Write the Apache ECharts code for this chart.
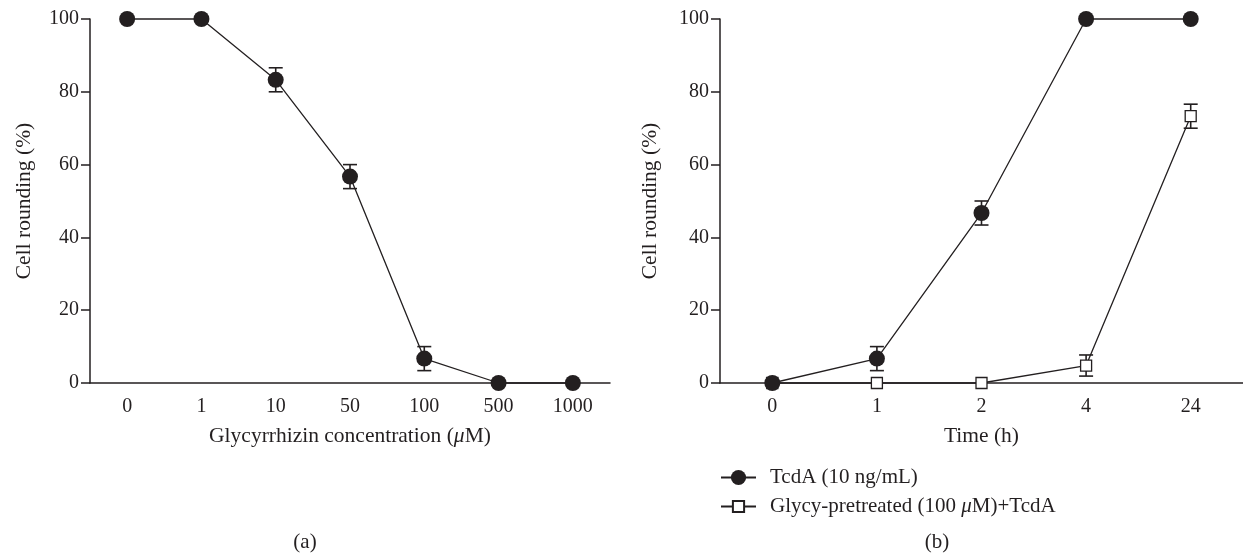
<!doctype html>
<html lang="en">
    <head>
        <meta charset="UTF-8">
        <style>
            html, body { margin: 0; padding: 0; background: #fff; }
        </style>
    </head>
    <body>
        <div id="main" style="width: 1243px;height:558px;"></div>
        <script src="https://cdn.jsdelivr.net/npm/echarts@6/dist/echarts.min.js"></script>
        <script type="text/javascript">
        // data
        var concLabels = ['0', '1', '10', '50', '100', '500', '1000'];
        var roundConc = [100, 100, 83.3, 56.7, 6.7, 0, 0];
        var errConc = [0, 0, 3.3, 3.3, 3.3, 0, 0];

        var timeLabels = ['0', '1', '2', '4', '24'];
        var tcda = [0, 6.7, 46.7, 100, 100];
        var errTcda = [0, 3.3, 3.3, 0, 0];
        var glycy = [0, 0, 0, 4.8, 73.3];
        var errGlycy = [0, 0, 0, 2.9, 3.3];

        var nameTcda = 'TcdA (10 ng/mL)';
        var nameGlycy = 'Glycy-pretreated (100 μM)+TcdA';

        var ink = '#231f20';
        var font = 'Liberation Serif';

        function errData(means, errs) {
            var out = [];
            for (var i = 0; i < means.length; i++) {
                if (errs[i] > 0) out.push([i, means[i] - errs[i], means[i] + errs[i]]);
            }
            return out;
        }

        function errorBar(params, api) {
            var x = api.value(0);
            var lo = api.coord([x, api.value(1)]);
            var hi = api.coord([x, api.value(2)]);
            var w = 7;
            var st = { stroke: ink, lineWidth: 1.6 };
            return {
                type: 'group',
                children: [
                    { type: 'line', shape: { x1: lo[0], y1: lo[1], x2: hi[0], y2: hi[1] }, style: st },
                    { type: 'line', shape: { x1: hi[0] - w, y1: hi[1], x2: hi[0] + w, y2: hi[1] }, style: st },
                    { type: 'line', shape: { x1: lo[0] - w, y1: lo[1], x2: lo[0] + w, y2: lo[1] }, style: st }
                ]
            };
        }

        function muRich(size) {
            return { i: { fontStyle: 'italic', fontFamily: font, fontSize: size, color: ink } };
        }

        function xAxis(idx, labels, name) {
            return {
                type: 'category',
                gridIndex: idx,
                data: labels,
                boundaryGap: true,
                name: name,
                nameLocation: 'middle',
                nameGap: 42,
                nameTextStyle: { fontFamily: font, fontSize: 21.5, color: ink, rich: muRich(21.5) },
                axisLine: { lineStyle: { color: ink, width: 1.5 } },
                axisTick: { alignWithLabel: true, length: 10, lineStyle: { color: ink, width: 1.5 } },
                axisLabel: { margin: 14, fontFamily: font, fontSize: 20, color: ink },
                splitLine: { show: false }
            };
        }

        function yAxis(idx, gap) {
            return {
                type: 'value',
                gridIndex: idx,
                min: 0,
                max: 100,
                interval: 20,
                name: 'Cell rounding (%)',
                nameLocation: 'middle',
                nameGap: gap,
                nameTextStyle: { fontFamily: font, fontSize: 21.5, color: ink },
                axisLine: { show: true, lineStyle: { color: ink, width: 1.5 } },
                axisTick: { show: true, length: 9, lineStyle: { color: ink, width: 1.5 } },
                axisLabel: { margin: 11, fontFamily: font, fontSize: 20, color: ink },
                splitLine: { show: false }
            };
        }

        var myChart = echarts.init(document.getElementById('main'));

        var legendBase = {
            orient: 'vertical',
            left: 720,
            padding: 0,
            itemWidth: 35,
            textStyle: { fontFamily: font, fontSize: 21, color: ink, padding: [0, 0, 0, 9], rich: muRich(21) },
            formatter: function (n) { return n.replace('μ', '{i|μ}'); },
            selectedMode: false
        };

        option = {
            animation: false,
            grid: [
                { left: 90, top: 19, width: 520, height: 364 },
                { left: 720, top: 19, width: 523, height: 364 }
            ],
            xAxis: [
                xAxis(0, concLabels, 'Glycyrrhizin concentration ({i|μ}M)'),
                xAxis(1, timeLabels, 'Time (h)')
            ],
            yAxis: [yAxis(0, 55), yAxis(1, 59)],
            legend: [
                Object.assign({}, legendBase, { data: [nameTcda], top: 467, itemHeight: 19 }),
                Object.assign({}, legendBase, { data: [nameGlycy], top: 496, itemHeight: 14 })
            ],
            graphic: [
                { type: 'text', x: 305, y: 542, style: { text: '(a)', fontFamily: font, fontSize: 21, fill: ink, align: 'center', verticalAlign: 'middle' } },
                { type: 'text', x: 937, y: 542, style: { text: '(b)', fontFamily: font, fontSize: 21, fill: ink, align: 'center', verticalAlign: 'middle' } }
            ],
            series: [
                {
                    type: 'custom', xAxisIndex: 0, yAxisIndex: 0, z: 1,
                    renderItem: errorBar, data: errData(roundConc, errConc)
                },
                {
                    type: 'line', name: 'conc', xAxisIndex: 0, yAxisIndex: 0, z: 3, clip: false,
                    data: roundConc, symbol: 'circle', symbolSize: 16,
                    itemStyle: { color: ink },
                    lineStyle: { color: ink, width: 1.3 }
                },
                {
                    type: 'custom', xAxisIndex: 1, yAxisIndex: 1, z: 1,
                    renderItem: errorBar, data: errData(tcda, errTcda)
                },
                {
                    type: 'custom', xAxisIndex: 1, yAxisIndex: 1, z: 1,
                    renderItem: errorBar, data: errData(glycy, errGlycy)
                },
                {
                    type: 'line', name: nameTcda, xAxisIndex: 1, yAxisIndex: 1, z: 4, clip: false,
                    data: tcda, symbol: 'circle', symbolSize: 16,
                    itemStyle: { color: ink },
                    lineStyle: { color: ink, width: 1.3 }
                },
                {
                    type: 'line', name: nameGlycy, xAxisIndex: 1, yAxisIndex: 1, z: 3, clip: false,
                    data: glycy, symbol: 'rect', symbolSize: 11,
                    itemStyle: { color: '#fff', borderColor: ink, borderWidth: 1.3 },
                    lineStyle: { color: ink, width: 1.3 }
                }
            ]
        };
        myChart.setOption(option);
        </script>
    </body>
</html>
